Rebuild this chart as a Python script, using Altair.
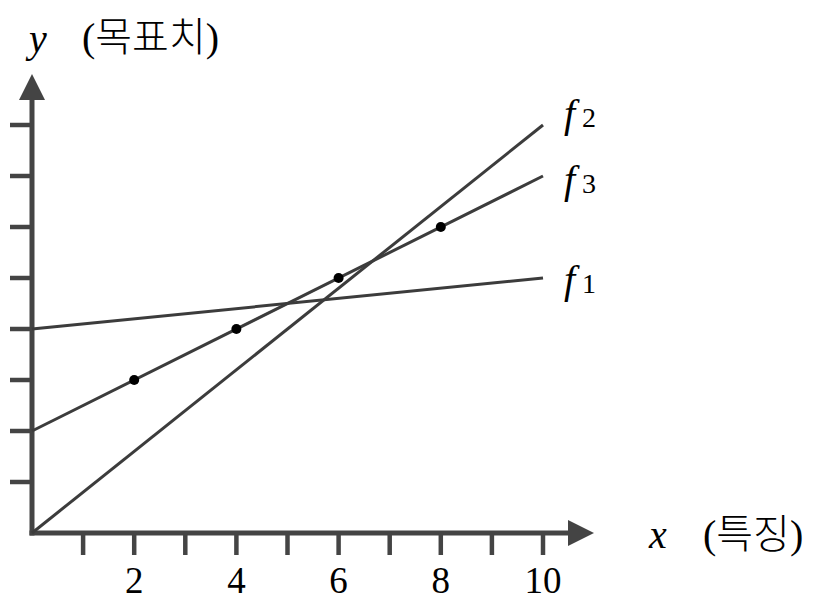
import altair as alt
import pandas as pd

# ---------------- data ----------------
line_names = ["f1", "f2", "f3"]
line_digits = ["1", "2", "3"]
line_x_start = [0, 0, 0]
line_x_end = [10, 10, 10]
line_y_start = [4, 0, 2]
line_y_end = [5, 8, 7]

point_x = [2, 4, 6, 8]
point_y = [3, 4, 5, 6]

x_tick_values = [1, 2, 3, 4, 5, 6, 7, 8, 9, 10]
y_tick_values = [1, 2, 3, 4, 5, 6, 7, 8]
x_label_values = [2, 4, 6, 8, 10]
x_label_texts = ["2", "4", "6", "8", "10"]

y_title = "y"
y_note = "(목표치)"
x_title = "x"
x_note = "(특징)"

# ---------------- style ----------------
AX = "#444444"
LINE = "#3c3c3c"
SERIF = "Liberation Serif"
MIXED = "Liberation Serif, Noto Sans CJK KR"
W, H = 511, 408
label_dy = {"f1": 15, "f2": 2, "f3": 17}

xs = alt.Scale(domain=[0, 10], nice=False, zero=False)
ys = alt.Scale(domain=[0, 8], nice=False, zero=False)

lines_df = pd.DataFrame({
    "name": line_names, "digit": line_digits,
    "x": line_x_start, "x2": line_x_end,
    "y": line_y_start, "y2": line_y_end,
})
points_df = pd.DataFrame({"x": point_x, "y": point_y})
xt_df = pd.DataFrame({"x": x_tick_values})
yt_df = pd.DataFrame({"y": y_tick_values})
xl_df = pd.DataFrame({"x": x_label_values, "t": x_label_texts})
one = pd.DataFrame({"k": [0]})

layers = []

# axis lines
layers.append(alt.Chart(one).mark_rule(color=AX, strokeWidth=5, strokeCap="square").encode(
    x=alt.value(0), y=alt.value(H), y2=alt.value(-26)))
layers.append(alt.Chart(one).mark_rule(color=AX, strokeWidth=5, strokeCap="square").encode(
    y=alt.value(H), x=alt.value(0), x2=alt.value(536)))
# arrow heads
layers.append(alt.Chart(one).mark_point(shape="M0,0L1,2L-1,2Z", filled=True, size=676,
                                        color=AX, opacity=1, strokeWidth=0).encode(
    x=alt.value(0), y=alt.value(-51)))
layers.append(alt.Chart(one).mark_point(shape="M0,0L-2,-1L-2,1Z", filled=True, size=676,
                                        color=AX, opacity=1, strokeWidth=0).encode(
    x=alt.value(562), y=alt.value(H)))
# ticks
layers.append(alt.Chart(xt_df).mark_rule(color=AX, strokeWidth=4.5).encode(
    x=alt.X("x:Q", scale=xs, axis=None), y=alt.value(H), y2=alt.value(H + 22)))
layers.append(alt.Chart(yt_df).mark_rule(color=AX, strokeWidth=4.5).encode(
    y=alt.Y("y:Q", scale=ys, axis=None), x=alt.value(-22), x2=alt.value(0)))
# tick labels
layers.append(alt.Chart(xl_df).mark_text(font=SERIF, fontSize=37, color="#000000",
                                         align="center", baseline="alphabetic").encode(
    x=alt.X("x:Q", scale=xs, axis=None), y=alt.value(468), text="t:N"))

# function lines
layers.append(alt.Chart(lines_df).mark_rule(color=LINE, strokeWidth=3).encode(
    x=alt.X("x:Q", scale=xs, axis=None), x2="x2:Q",
    y=alt.Y("y:Q", scale=ys, axis=None), y2="y2:Q"))
# points
layers.append(alt.Chart(points_df).mark_circle(size=100, color="#000000", opacity=1).encode(
    x=alt.X("x:Q", scale=xs, axis=None), y=alt.Y("y:Q", scale=ys, axis=None)))

# line labels
for nm in line_names:
    base = alt.Chart(lines_df).transform_filter(alt.datum.name == nm)
    layers.append(base.mark_text(font=SERIF, fontStyle="italic", fontSize=40, color="#000000",
                                 align="left", baseline="alphabetic", dx=21, dy=label_dy[nm],
                                 text="f").encode(
        x=alt.X("x2:Q", scale=xs, axis=None), y=alt.Y("y2:Q", scale=ys, axis=None)))
    layers.append(base.mark_text(font=SERIF, fontSize=28, color="#000000",
                                 align="left", baseline="alphabetic", dx=39, dy=label_dy[nm]).encode(
        x=alt.X("x2:Q", scale=xs, axis=None), y=alt.Y("y2:Q", scale=ys, axis=None),
        text="digit:N"))

# axis titles
def txt(s, xv, yv, italic=False, font=SERIF, weight=None):
    kw = dict(font=font, fontSize=40, color="#000000", align="left", baseline="alphabetic")
    if italic:
        kw["fontStyle"] = "italic"
    if weight is not None:
        kw["fontWeight"] = weight
    return alt.Chart(pd.DataFrame({"t": [s]})).mark_text(**kw).encode(
        x=alt.value(xv), y=alt.value(yv), text="t:N")

layers.append(txt(y_title, -3, -73, italic=True))
layers.append(txt(y_note, 50, -74, font=MIXED, weight=300))
layers.append(txt(x_title, 617, 423, italic=True))
layers.append(txt(x_note, 671, 423, font=MIXED, weight=300))

chart = alt.layer(*layers).properties(
    width=W, height=H,
    autosize=alt.AutoSizeParams(type="none"),
    padding={"left": 24, "top": 117, "right": 265, "bottom": 69},
).configure_view(strokeWidth=0)

chart.save("out.html", embed_options={"renderer": "svg", "actions": False})
